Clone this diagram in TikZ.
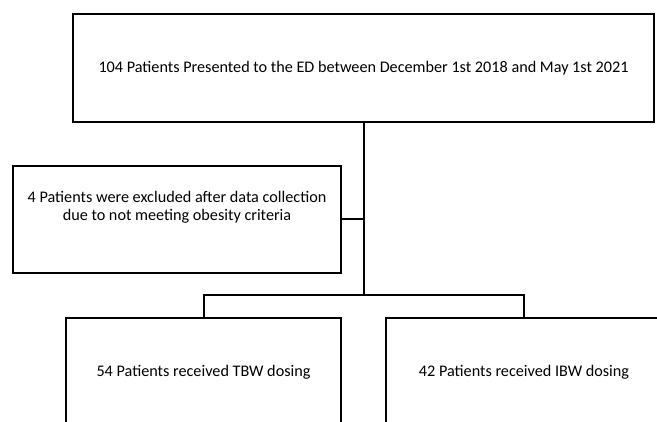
\documentclass[tikz,border=0pt]{standalone}
\usepackage{fontspec}
\setmainfont{Carlito}
\begin{document}
\begin{tikzpicture}[x=1pt,y=-1pt,
  box/.style={draw=black,line width=1.5pt,rectangle,inner sep=0pt},
  lbl/.style={font=\fontsize{16.2}{18}\selectfont,align=center,inner sep=0pt},
  conn/.style={draw=black,line width=2pt}]
\clip (0,0) rectangle (657,422);
\fill[white] (0,0) rectangle (657,422);
\node[box,lbl,minimum width=581pt,minimum height=108pt] (top) at (363.5,68)
  {104 Patients Presented to the ED between December 1st 2018 and May 1st 2021};
\node[box,minimum width=328pt,minimum height=107pt] (excl) at (177,219.5) {};
\node[lbl] (excltext) at (177,207.5)
  {4 Patients were excluded after data collection\\due to not meeting obesity criteria};
\node[box,lbl,minimum width=275pt,minimum height=108pt] (tbw) at (203.5,372)
  {54 Patients received TBW dosing};
\node[box,lbl,minimum width=276pt,minimum height=108pt] (ibw) at (524,372)
  {42 Patients received IBW dosing};
\coordinate (J) at (364,295);
\draw[conn] (J |- top.south) -- (J);
\draw[conn] (excl.east) -- (excl.east -| J);
\draw[conn] (tbw.north) |- (J) -| (ibw.north);
\end{tikzpicture}
\end{document}
